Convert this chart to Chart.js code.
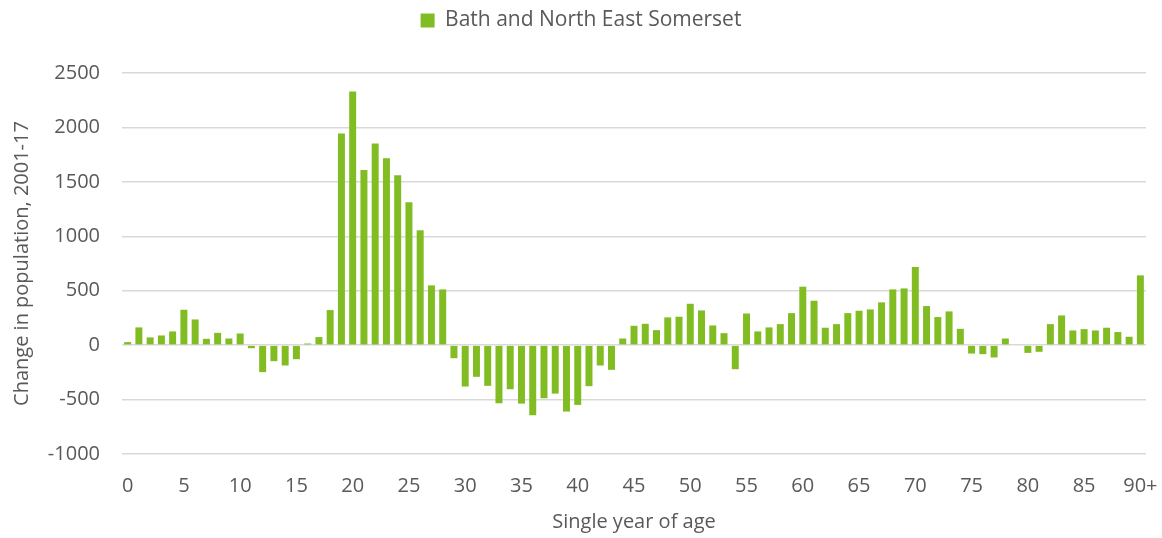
<!DOCTYPE html>
<html>
<head>
<meta charset="utf-8">
<script src="https://cdn.jsdelivr.net/npm/chart.js@4/dist/chart.umd.min.js"></script>
<style>
  html, body { margin: 0; padding: 0; background: #fff; }
  #wrap { width: 1162px; height: 538px; }
</style>
</head>
<body>
<div id="wrap"><canvas id="popChart"></canvas></div>
<script>
// single year of age, 0 .. 90+
let ages = [];
for (let a = 0; a < 90; a++) ages.push(String(a));
ages.push('90+');

// change in population 2001-17
let change0to29 = [28, 163, 71, 89, 126, 325, 236, 58, 113, 61,
                   107, -28, -248, -147, -187, -129, 15, 74, 322, 1945,
                   2331, 1610, 1853, 1718, 1561, 1313, 1055, 549, 512, -120];
let change30to59 = [-380, -291, -374, -534, -405, -537, -644, -488, -445, -610,
                    -549, -377, -187, -227, 61, 178, 196, 138, 255, 261,
                    380, 319, 181, 110, -221, 291, 126, 163, 193, 294];
let change60plus = [537, 408, 160, 193, 294, 316, 328, 393, 512, 521,
                    718, 359, 258, 310, 150, -77, -83, -113, 61, 0,
                    -71, -61, 193, 273, 135, 147, 135, 160, 120, 77, 641];

let yTicks = [-1000, -500, 0, 500, 1000, 1500, 2000, 2500];

let values = change0to29.concat(change30to59, change60plus);

let textColor = '#595959';
let font = { family: "'Open Sans', 'Noto Sans', sans-serif", size: 20 };

// push the plot down below the legend, like the original
let legendGap = {
  id: 'legendGap',
  beforeInit(chart) {
    let fit = chart.legend.fit;
    chart.legend.fit = function () {
      fit.bind(chart.legend)();
      this.height += 32;
    };
  }
};

let ctx = document.getElementById('popChart').getContext('2d');

let popChart = new Chart(ctx, {
  type: 'bar',
  data: {
    labels: ages,
    datasets: [{
      label: 'Bath and North East Somerset',
      data: values,
      backgroundColor: '#80bc22',
      borderWidth: 0,
      barPercentage: 1,
      categoryPercentage: 0.62
    }]
  },
  plugins: [legendGap],
  options: {
    responsive: true,
    maintainAspectRatio: false,
    animation: false,
    layout: { padding: { left: 0, right: 0, top: 0, bottom: 4 } },
    plugins: {
      legend: {
        position: 'top',
        labels: {
          color: textColor,
          font: { family: font.family, size: 21 },
          boxWidth: 14,
          boxHeight: 14,
          padding: 10
        }
      },
      tooltip: { enabled: false }
    },
    scales: {
      x: {
        afterFit: function (scale) { scale.paddingRight = 16; },
        grid: { display: false },
        border: { display: false },
        ticks: {
          color: textColor,
          font: font,
          autoSkip: false,
          maxRotation: 0,
          padding: 12,
          callback: function (v, i) { return i % 5 === 0 ? ages[i] : ''; }
        },
        title: {
          display: true,
          text: 'Single year of age',
          color: textColor,
          font: font,
          padding: { top: 0, bottom: 0 }
        }
      },
      y: {
        min: -1000,
        max: 2500,
        afterBuildTicks: function (scale) {
          scale.ticks = yTicks.map(v => ({ value: v }));
        },
        afterFit: function (scale) { scale.width = 122; },
        grid: { color: '#d9d9d9', lineWidth: 1.5, drawTicks: false },
        border: { display: false },
        ticks: {
          color: textColor,
          font: font,
          padding: 22,
          callback: function (v) { return String(v); }
        },
        title: {
          display: true,
          text: 'Change in population, 2001-17',
          color: textColor,
          font: font,
          padding: { top: 10, bottom: 0 }
        }
      }
    }
  }
});
</script>
</body>
</html>
